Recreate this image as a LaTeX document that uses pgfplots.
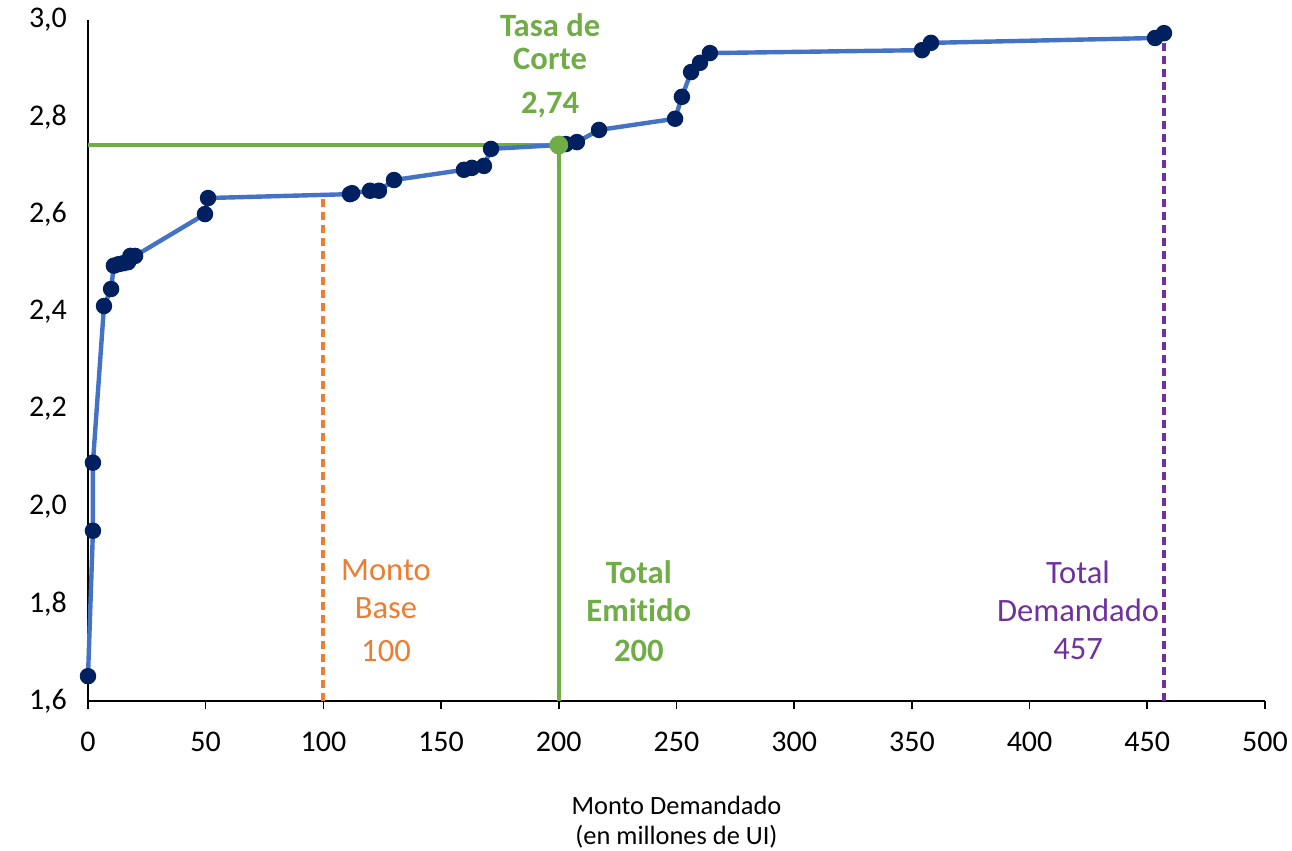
\documentclass[border=0pt]{standalone}
\usepackage{pgfplots}
\pgfplotsset{compat=1.18}
\usepackage{fontspec}
\setmainfont{Carlito}[Ligatures=NoCommon]
\definecolor{lineblue}{HTML}{4472C4}
\definecolor{navy}{HTML}{002060}
\definecolor{cgreen}{HTML}{70AD47}
\definecolor{corange}{HTML}{ED7D31}
\definecolor{cpurple}{HTML}{7030A0}
\begin{document}
\begin{tikzpicture}
\useasboundingbox (-44pt,-75pt) rectangle (602pt,350.5pt);
\begin{axis}[
  scale only axis,
  width=588.5pt, height=340.5pt,
  xmin=0, xmax=500, ymin=1.6, ymax=3.0,
  axis lines=left,
  axis line style={-, black, line width=0.8pt},
  xtick={0,50,...,500},
  ytick={1.6,1.8,...,3.01},
  tick align=outside,
  major tick length=4pt,
  xtick style={black, line width=0.8pt},
  ytick style={draw=none},
  tick label style={font=\fontsize{15}{17}\selectfont},
  /pgf/number format/assume math mode=true,
  yticklabel style={/pgf/number format/.cd, use comma, fixed, fixed zerofill, precision=1},
  xticklabel style={/pgf/number format/.cd, fixed, precision=0},
  xticklabel shift=8pt,
  yticklabel shift=3pt,
  xlabel={Monto Demandado\\(en millones de UI)},
  xlabel style={font=\fontsize{13.2}{15.2}\selectfont, align=center, at={(axis description cs:0.5,0)}, anchor=north, yshift=-44pt},
  clip=false,
]
% reference lines
\addplot[cgreen, line width=2pt] coordinates {(0,2.743) (200,2.743) (200,1.6)};
\addplot[corange, line width=2pt, dash pattern=on 4pt off 2.5pt] coordinates {(100,1.6) (100,2.642)};
\addplot[cpurple, line width=2pt, dash pattern=on 4pt off 2.5pt] coordinates {(457.1,1.6) (457.1,2.973)};
% demand curve
\addplot[lineblue, line width=2.2pt, mark=*, mark size=3pt, mark options={fill=navy, draw=navy}] coordinates {
(0,1.651) (2.1,1.95) (2.1,2.09) (6.8,2.412) (9.8,2.447) (11,2.495) (13,2.498) (15,2.500) (17,2.502) (18,2.515) (20,2.515)
(49.7,2.601) (51,2.634) (111.3,2.642) (112.2,2.644) (119.8,2.649) (123.6,2.649) (130,2.671)
(159.7,2.692) (163.1,2.696) (168.2,2.700) (171.2,2.735) (200,2.743) (203,2.745) (207.7,2.749)
(217.1,2.774) (249.4,2.797) (252.3,2.842) (256.2,2.893) (260,2.912) (264.2,2.932)
(354.3,2.938) (358.1,2.953) (453.3,2.963) (457.1,2.973)
};
\addplot[only marks, mark=*, mark size=4.5pt, mark options={fill=cgreen, draw=cgreen}] coordinates {(200,2.743)};
% annotations
\node[text=cgreen, font=\fontsize{16.3}{19}\selectfont\bfseries] at (axis cs:196.3,2.99) {Tasa de};
\node[text=cgreen, font=\fontsize{16.3}{19}\selectfont\bfseries] at (axis cs:196.3,2.92) {Corte};
\node[text=cgreen, font=\fontsize{16.3}{19}\selectfont\bfseries] at (axis cs:196.3,2.825) {2,74};
\node[text=corange, font=\fontsize{16.3}{19}\selectfont] at (axis cs:126.6,1.869) {Monto};
\node[text=corange, font=\fontsize{16.3}{19}\selectfont] at (axis cs:126.6,1.791) {Base};
\node[text=corange, font=\fontsize{16.3}{19}\selectfont] at (axis cs:126.6,1.703) {100};
\node[text=cgreen, font=\fontsize{16.3}{19}\selectfont\bfseries] at (axis cs:234,1.865) {Total};
\node[text=cgreen, font=\fontsize{16.3}{19}\selectfont\bfseries] at (axis cs:234,1.787) {Emitido};
\node[text=cgreen, font=\fontsize{16.3}{19}\selectfont\bfseries] at (axis cs:234,1.703) {200};
\node[text=cpurple, font=\fontsize{16.3}{19}\selectfont] at (axis cs:420.6,1.865) {Total};
\node[text=cpurple, font=\fontsize{16.3}{19}\selectfont] at (axis cs:420.6,1.787) {Demandado};
\node[text=cpurple, font=\fontsize{16.3}{19}\selectfont] at (axis cs:420.6,1.707) {457};
\end{axis}
\end{tikzpicture}
\end{document}
